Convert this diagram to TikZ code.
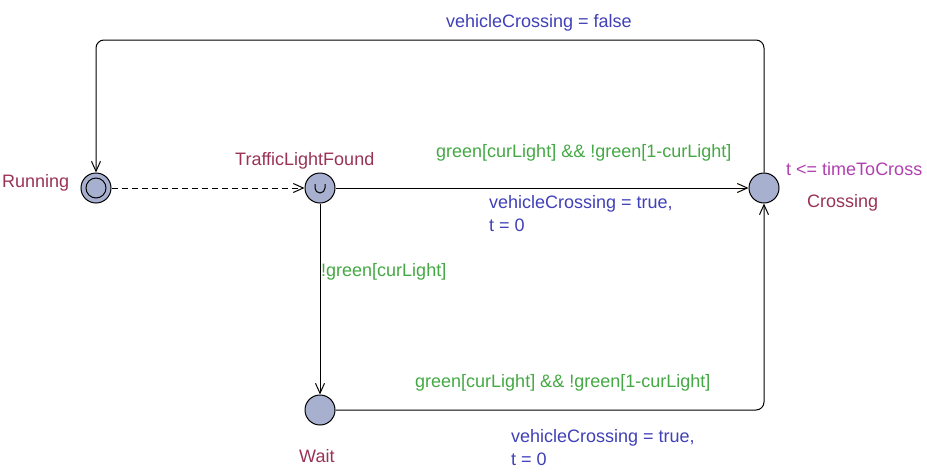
\documentclass[tikz,border=0pt]{standalone}
\usepackage{fontspec}
\setmainfont{Liberation Sans}
\usetikzlibrary{arrows.meta}
\definecolor{locfill}{HTML}{A8B0D0}
\definecolor{namecol}{HTML}{993355}
\definecolor{assigncol}{HTML}{4040B8}
\definecolor{guardcol}{HTML}{44A844}
\definecolor{invcol}{HTML}{B040B0}
\tikzset{
  loc/.style={circle, draw=black, fill=locfill, line width=1pt, minimum size=30pt, inner sep=0pt},
  edge/.style={draw=black, line width=1pt, -{Straight Barb[length=10pt,width=9pt,line width=1pt]}},
  lbl/.style={anchor=base west, inner sep=0pt, font=\fontsize{18}{20}\selectfont},
  locname/.style={lbl, text=namecol},
  assign/.style={lbl, text=assigncol},
  guard/.style={lbl, text=guardcol},
  inv/.style={lbl, text=invcol}
}
\begin{document}
\begin{tikzpicture}[x=1pt,y=-1pt]
\useasboundingbox (0,0) rectangle (927,472);
% locations
\node[loc] (run) at (96,188) {};
\draw[line width=1pt] (run.center) circle (10pt);
\node[loc] (tlf) at (320,188) {};
\draw[line width=1pt] (tlf.center) ++(-5,-4) -- ++(0,4) arc[start angle=180,end angle=0,radius=5] -- ++(0,-4);
\node[loc] (cross) at (764,188) {};
\node[loc] (wait) at (320,410) {};
% corner coordinates
\coordinate (topR) at (764,40);
\coordinate (topL) at (96,40);
\coordinate (botR) at (764,410);
% edges
\draw[edge, dash pattern=on 6pt off 4pt] (run) -- (tlf);
\draw[edge] (tlf) -- (cross);
\draw[edge] (tlf) -- (wait);
\draw[edge, rounded corners=8pt] (wait) -- (botR) -- (cross);
\draw[edge, rounded corners=8pt] (cross) -- (topR) -- (topL) -- (run);
% names
\node[locname] (nrun) at (2,187) {Running};
\node[locname] (ntlf) at (235,165) {TrafficLightFound};
\node[locname] (ncross) at (807,207) {Crossing};
\node[locname] (nwait) at (299,462) {Wait};
% invariant
\node[inv] (icross) at (786,175) {t <= timeToCross};
% labels
\node[assign] (a1) at (446,27) {vehicleCrossing = false};
\node[guard] (g1) at (436,157) {green[curLight] \&\& !green[1-curLight]};
\node[assign] (a2) at (489,208) {vehicleCrossing = true,};
\node[assign] (a2b) at (489,231) {t = 0};
\node[guard] (g2) at (321,276) {!green[curLight]};
\node[guard] (g3) at (415,387) {green[curLight] \&\& !green[1-curLight]};
\node[assign] (a3) at (511,442) {vehicleCrossing = true,};
\node[assign] (a3b) at (511,465) {t = 0};
\end{tikzpicture}
\end{document}
